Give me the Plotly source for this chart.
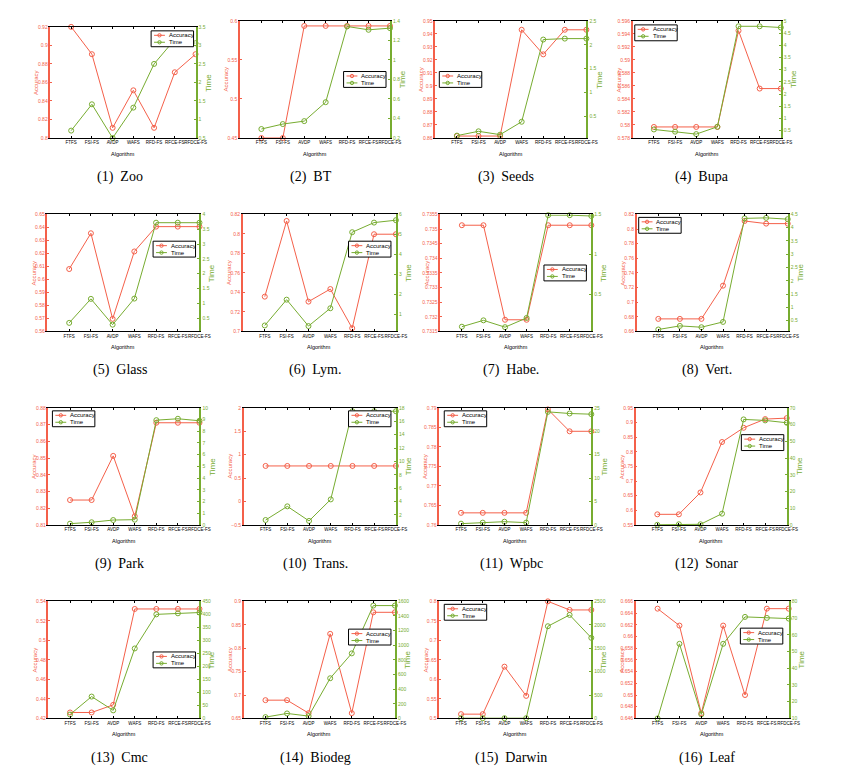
import plotly.graph_objects as go

# algorithms on the x axis
algorithms = ['FTFS', 'FSI-FS', 'AVDP', 'WAFS', 'RFD-FS', 'RFCE-FS', 'RFDCE-FS']

datasets = ['Zoo', 'BT', 'Seeds', 'Bupa', 'Glass', 'Lym.', 'Habe.', 'Vert.',
            'Park', 'Trans.', 'Wpbc', 'Sonar', 'Cmc', 'Biodeg', 'Darwin', 'Leaf']

zoo_acc = [0.92, 0.8905, 0.811, 0.8515, 0.811, 0.871, 0.8905]
zoo_time = [0.70, 1.41, 0.5, 1.32, 2.5, 3.16, 3.06]
bt_acc = [0.45, 0.45, 0.5936, 0.5936, 0.5936, 0.5936, 0.5936]
bt_time = [0.292, 0.343, 0.373, 0.567, 1.343, 1.309, 1.326]
seeds_acc = [0.8615, 0.8615, 0.8615, 0.9432, 0.9243, 0.9432, 0.9432]
seeds_time = [0.10, 0.19, 0.12, 0.39, 2.11, 2.13, 2.13]
bupa_acc = [0.5797, 0.5797, 0.5797, 0.5797, 0.5945, 0.5856, 0.5856]
bupa_time = [0.55, 0.46, 0.36, 0.66, 4.78, 4.78, 4.73]
glass_acc = [0.608, 0.6355, 0.5697, 0.6215, 0.6406, 0.6406, 0.6406]
glass_time = [0.34, 1.15, 0.28, 1.16, 3.72, 3.72, 3.72]
lym_acc = [0.7357, 0.8133, 0.7306, 0.7435, 0.7034, 0.7997, 0.7997]
lym_time = [0.45, 1.74, 0.42, 1.31, 5.11, 5.59, 5.71]
habe_acc = [0.73513, 0.73513, 0.7319, 0.7319, 0.73513, 0.73513, 0.73513]
habe_time = [0.09, 0.17, 0.084, 0.2, 1.49, 1.49, 1.48]
vert_acc = [0.6772, 0.6772, 0.6772, 0.7226, 0.811, 0.8074, 0.8074]
vert_time = [0.165, 0.3, 0.25, 0.45, 4.35, 4.37, 4.32]
park_acc = [0.8249, 0.8249, 0.8513, 0.8152, 0.8711, 0.8711, 0.8711]
park_time = [0.11, 0.23, 0.42, 0.45, 8.95, 9.07, 8.9]
trans_acc = [0.76, 0.76, 0.76, 0.76, 0.76, 0.76, 0.76]
trans_time = [1.24, 3.28, 1.1, 4.32, 17.5, 17.5, 17.5]
wpbc_acc = [0.7631, 0.7631, 0.7631, 0.7631, 0.7896, 0.784, 0.784]
wpbc_time = [0.28, 0.5, 0.7, 0.5, 24.15, 23.8, 23.65]
sonar_acc = [0.5863, 0.5863, 0.661, 0.8334, 0.882, 0.9117, 0.915]
sonar_time = [0.1, 0.4, 0.4, 6.75, 63.1, 62.5, 61.1]
cmc_acc = [0.4261, 0.4261, 0.4339, 0.5322, 0.5322, 0.5322, 0.5322]
cmc_time = [15, 84, 31, 269, 400, 404, 407]
biodeg_acc = [0.689, 0.689, 0.6613, 0.8306, 0.6613, 0.8766, 0.8766]
biodeg_time = [18, 68, 32, 549, 889, 1542, 1542]
darwin_acc = [0.511, 0.511, 0.6327, 0.5578, 0.8, 0.778, 0.778]
darwin_time = [5, 5, 5, 5, 1969, 2210, 1721]
leaf_acc = [0.66475, 0.66186, 0.6469, 0.66186, 0.65, 0.66475, 0.66475]
leaf_time = [10, 54.6, 12.4, 54.6, 70.7, 70.1, 69.7]

acc_series = [zoo_acc, bt_acc, seeds_acc, bupa_acc, glass_acc, lym_acc, habe_acc, vert_acc,
              park_acc, trans_acc, wpbc_acc, sonar_acc, cmc_acc, biodeg_acc, darwin_acc, leaf_acc]
time_series = [zoo_time, bt_time, seeds_time, bupa_time, glass_time, lym_time, habe_time, vert_time,
               park_time, trans_time, wpbc_time, sonar_time, cmc_time, biodeg_time, darwin_time, leaf_time]

# axis ranges / tick steps for accuracy (left) and time (right)
acc_ranges = [(0.8, 0.92, 0.02), (0.45, 0.6, 0.05), (0.86, 0.95, 0.01), (0.578, 0.596, 0.002),
              (0.56, 0.65, 0.01), (0.7, 0.82, 0.02), (0.7315, 0.7355, 0.0005), (0.66, 0.82, 0.02),
              (0.81, 0.88, 0.01), (-0.5, 2, 0.5), (0.76, 0.79, 0.005), (0.55, 0.95, 0.05),
              (0.42, 0.54, 0.02), (0.65, 0.9, 0.05), (0.5, 0.8, 0.05), (0.646, 0.666, 0.002)]
time_ranges = [(0.5, 3.5, 0.5), (0.2, 1.4, 0.2), (0.05, 2.5, 0.5), (0.2, 5, 0.5),
               (0.05, 4, 0.5), (0.15, 6, 1), (0.03, 1.5, 0.5), (0.09, 4.5, 0.5),
               (0, 10, 1), (0.5, 18, 2), (0, 25, 5), (0, 70, 10),
               (0, 450, 50), (0, 1600, 200), (0, 2500, 500), (10, 80, 10)]

W, H = 847, 768
RED = '#F4604A'
GREEN = '#77AC30'
FONT = 'Liberation Sans'

# plot boxes in pixels: x0, x1, y0 (top), y1 (bottom)
boxes = [(43, 190, 16, 128), (235, 387, 10, 128), (433, 586, 10, 128), (633, 783, 10, 128),
         (40, 194, 205, 323), (238, 393, 205, 323), (438, 591, 205, 323), (637, 790, 205, 323),
         (41, 194, 400, 518), (239, 393, 400, 518), (437, 591, 400, 518), (636, 789, 400, 518),
         (41, 194, 595, 713), (239, 392, 595, 713), (437, 591, 595, 713), (636, 791, 595, 713)]
caption_pos = [(113, 167), (307, 167), (505, 167), (703, 167),
               (113, 362), (312, 362), (510, 362), (708, 362),
               (113, 557), (312, 557), (510, 557), (708, 557),
               (113, 753), (312, 753), (510, 753), (708, 753)]
# top-left corner of each small legend box (px)
legend_pos = [(145, 20), (340, 61), (437, 61), (635, 14),
              (147, 232), (345, 232), (543, 256), (639, 208),
              (45, 403), (345, 403), (442, 403), (743, 427),
              (147, 646), (345, 623), (442, 598), (742, 622)]


def px(x):
    return x / W


def py(y):
    return 1 - y / H


def label(text, x, y, size, color, family=FONT, angle=0, xanchor='center'):
    return dict(text=text, x=px(x), y=py(y), xref='paper', yref='paper',
                xanchor=xanchor, yanchor='middle', showarrow=False, textangle=angle,
                font=dict(size=size, color=color, family=family))


fig = go.Figure()
layout = {}
annotations = []
shapes = []

for k in range(16):
    n = k + 1
    a, b = 2 * n - 1, 2 * n
    xs = 'x' if n == 1 else f'x{n}'
    ya = 'y' if a == 1 else f'y{a}'
    yb = f'y{b}'
    x0, x1, y0, y1 = boxes[k]

    fig.add_trace(go.Scatter(
        x=algorithms, y=acc_series[k], xaxis=xs, yaxis=ya, name='Accuracy', showlegend=False,
        mode='lines+markers', cliponaxis=False,
        line=dict(color=RED, width=1),
        marker=dict(symbol='circle-open', size=5, color=RED, line=dict(width=1))))
    fig.add_trace(go.Scatter(
        x=algorithms, y=time_series[k], xaxis=xs, yaxis=yb, name='Time', showlegend=False,
        mode='lines+markers', cliponaxis=False,
        line=dict(color=GREEN, width=1),
        marker=dict(symbol='circle-open', size=5, color=GREEN, line=dict(width=1))))

    layout['xaxis' if n == 1 else f'xaxis{n}'] = dict(
        domain=[px(x0), px(x1)], anchor=ya, type='category', range=[-1, 6], tickangle=0,
        showline=True, linecolor='black', linewidth=1, mirror='ticks',
        ticks='inside', ticklen=2, tickcolor='black', showgrid=False, zeroline=False,
        tickfont=dict(size=4.5, color='black', family=FONT))
    lo, hi, step = acc_ranges[k]
    layout['yaxis' if a == 1 else f'yaxis{a}'] = dict(
        domain=[py(y1), py(y0)], anchor=xs, range=[lo, hi], dtick=step, tick0=0,
        showline=True, linecolor=RED, linewidth=1.5, ticks='inside', ticklen=2, tickcolor=RED,
        showgrid=False, zeroline=False,
        tickfont=dict(size=5, color=RED, family=FONT))
    lo, hi, step = time_ranges[k]
    layout[f'yaxis{b}'] = dict(
        overlaying=ya, side='right', anchor=xs, range=[lo, hi], dtick=step, tick0=0,
        showline=True, linecolor=GREEN, linewidth=2, ticks='inside', ticklen=2, tickcolor=GREEN,
        showgrid=False, zeroline=False,
        tickfont=dict(size=5, color=GREEN, family=FONT))

    # small boxed legend like the original figure
    lx, ly = legend_pos[k]
    shapes.append(dict(type='rect', xref='paper', yref='paper',
                       x0=px(lx), x1=px(lx + 43), y0=py(ly + 16), y1=py(ly),
                       fillcolor='white', line=dict(color='black', width=1)))
    for row, (name, col) in enumerate([('Accuracy', RED), ('Time', GREEN)]):
        cy = ly + 4.5 + row * 7
        shapes.append(dict(type='line', xref='paper', yref='paper',
                           x0=px(lx + 3), x1=px(lx + 14), y0=py(cy), y1=py(cy),
                           line=dict(color=col, width=1)))
        shapes.append(dict(type='circle', xref='paper', yref='paper',
                           x0=px(lx + 6.8), x1=px(lx + 10.2), y0=py(cy + 1.7), y1=py(cy - 1.7),
                           line=dict(color=col, width=1), fillcolor='rgba(0,0,0,0)'))
        annotations.append(label(name, lx + 16, cy, 6, 'black', xanchor='left'))

    annotations.append(label('Accuracy', x0 - 14, (y0 + y1) / 2, 6, RED, angle=-90))
    annotations.append(label('Time', x1 + 13, (y0 + y1) / 2, 8, GREEN, angle=-90))
    annotations.append(label('Algorithm', (x0 + x1) / 2, y1 + 16, 5.5, 'black'))
    cx, cy = caption_pos[k]
    annotations.append(label(f'({n})\u2002{datasets[k]}', cx, cy, 14, 'black',
                             family='Liberation Serif'))

fig.update_layout(**layout)
fig.update_layout(
    width=W, height=H, margin=dict(l=0, r=0, t=0, b=0),
    paper_bgcolor='white', plot_bgcolor='white',
    annotations=annotations, shapes=shapes, showlegend=False)

fig.write_html("out.html")
